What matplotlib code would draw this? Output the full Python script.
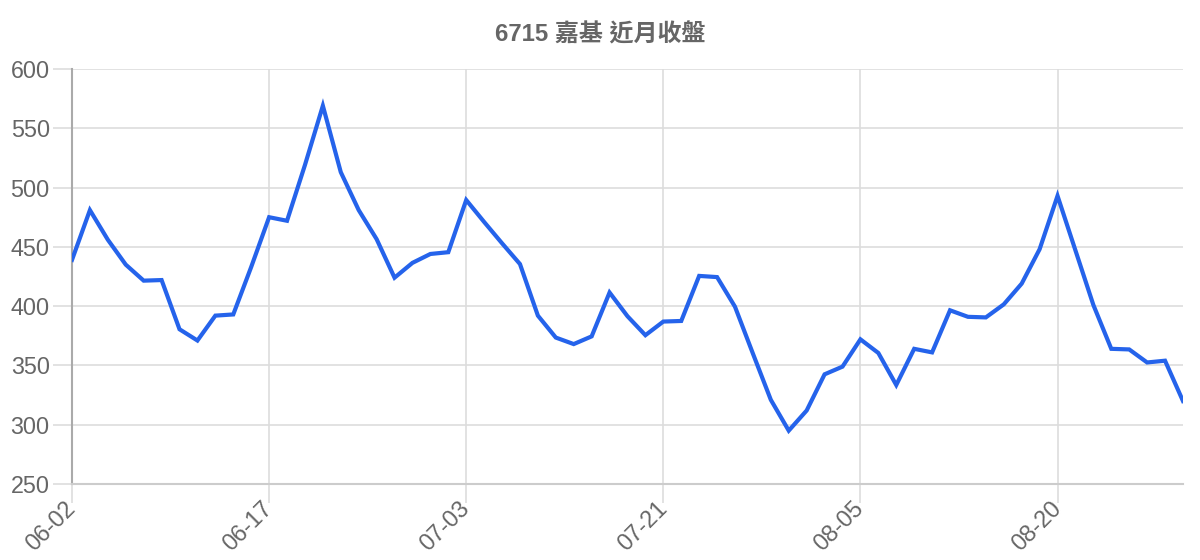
import matplotlib
matplotlib.use("Agg")
import matplotlib.pyplot as plt

# closing prices for the last ~3 months
dates = [
    "06-02", "06-03", "06-04", "06-05", "06-06", "06-09", "06-10", "06-11",
    "06-12", "06-13", "06-16", "06-17", "06-18", "06-19", "06-20", "06-23",
    "06-24", "06-25", "06-26", "06-27", "06-30", "07-01", "07-03", "07-04",
    "07-07", "07-08", "07-09", "07-10", "07-11", "07-14", "07-15", "07-16",
    "07-17", "07-21", "07-22", "07-23", "07-24", "07-25", "07-28", "07-29",
    "07-30", "07-31", "08-01", "08-04", "08-05", "08-06", "08-07", "08-08",
    "08-11", "08-12", "08-13", "08-14", "08-15", "08-18", "08-19", "08-20",
    "08-21", "08-22", "08-25", "08-26", "08-27", "08-28", "08-29",
]
close = [
    439, 481, 456, 435, 421.5, 422, 380.5, 371, 392, 393, 433, 475,
    472, 519, 569, 513, 481, 456.5, 424, 436.5, 444, 445.5, 489.5, 471,
    453, 435.5, 392, 373.5, 368, 374.5, 411.5, 391.5, 375.5, 387, 387.5, 425.5,
    424.5, 399.5, 360, 321, 295, 312, 342.5, 349, 372, 360.5, 333.5, 364,
    361, 396.5, 391, 390.5, 401.5, 419, 448, 493, 447, 401, 364, 363.5,
    352.5, 354, 320,
]
title = "6715 嘉基 近月收盤"
yticks = [250, 300, 350, 400, 450, 500, 550, 600]
label_step = 11

text_color = "#666666"
grid_color = "#dddddd"
line_color = "#2563eb"

plt.rcParams["font.family"] = ["Liberation Sans", "Noto Sans CJK TC", "DejaVu Sans"]

fig = plt.figure(figsize=(12, 5.6), dpi=100)
ax = fig.add_axes([0.06, 0.1357, 0.9258, 0.7411])

x = list(range(len(close)))
ax.plot(x, close, color=line_color, linewidth=3, solid_joinstyle="miter", zorder=3)

ax.set_xlim(0, len(close) - 1)
ax.set_ylim(250, 600)
ax.set_yticks(yticks)
ax.set_xticks(x[::label_step])
ax.set_xticklabels(dates[::label_step], rotation=45, ha="right", va="center",
                   rotation_mode="anchor")

ax.grid(True, color=grid_color, linewidth=1.2, zorder=0)
ax.tick_params(axis="both", colors=grid_color, labelcolor=text_color,
               labelsize=16.8, length=14, width=1.2, pad=2)
ax.tick_params(axis="x", pad=1)

for side in ["top", "right"]:
    ax.spines[side].set_visible(False)
ax.spines["left"].set_color("#aaaaaa")
ax.spines["left"].set_linewidth(1.5)
ax.spines["bottom"].set_color("#cccccc")
ax.spines["bottom"].set_linewidth(1.5)

fig.text(0.5, 0.9375, title, ha="center", va="center", fontsize=17.3,
         fontweight="bold", color=text_color)

fig.savefig("out.png", dpi=100)
